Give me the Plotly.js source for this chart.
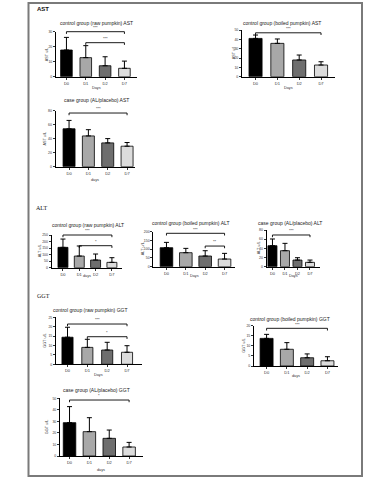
<!DOCTYPE html>
<html><head><meta charset="utf-8">
<script src="https://cdn.plot.ly/plotly-3.0.1.min.js"></script>
<style>html,body{margin:0;padding:0;background:#fff}#chart{width:385px;height:485px}</style>
</head><body><div id="chart"></div>
<script>
// ---- data ----
const days = ['D0','D1','D2','D7'];
const astRawMean = [17.8, 12.7, 7.3, 5.6];
const astRawErr  = [8.4, 8.0, 6.0, 4.8];
const astBoiledMean = [41, 35.7, 17.9, 12.5];
const astBoiledErr  = [3.6, 4.7, 5.3, 3.5];
const astCaseMean = [54, 43.8, 33.9, 29.2];
const astCaseErr  = [11.9, 8.9, 6.1, 5.2];
const altRawMean = [155.6, 89, 58.7, 40.8];
const altRawErr  = [63.4, 77, 45.9, 35.7];
const altBoiledMean = [108.6, 80, 61, 43.8];
const altBoiledErr  = [30.4, 24.8, 30.4, 32.4];
const altCaseMean = [45.8, 34.9, 14.5, 9.5];
const altCaseErr  = [14.6, 16, 5.1, 5];
const ggtRawMean = [14.4, 9.0, 7.6, 6.4];
const ggtRawErr  = [5.3, 4.3, 4.1, 3.5];
const ggtBoiledMean = [13.7, 8.3, 4.1, 2.6];
const ggtBoiledErr  = [2.0, 3.3, 1.9, 2.0];
const ggtCaseMean = [28.9, 21.1, 15.3, 7.8];
const ggtCaseErr  = [13.9, 12.1, 7.2, 4.0];
const sectionLabels = ['AST', 'ALT', 'GGT'];

// ---- layout config ----
const W = 385, H = 485;
const px = x => x / W, py = y => 1 - y / H;
const barColors = ['#000000', '#a8a8a8', '#6e6e6e', '#dcdcdc'];

// br: [from, to, bracket y (fraction of plot height), stars]
const panels = [
  {title:'control group (raw pumpkin) AST', mean:astRawMean, err:astRawErr, yt:'AST u/L', xt:'Days', yr:[0,30], dt:10,
   box:[56,137,31.7,76.7], xr:[-0.54,3.65], w:0.6, tp:[97,22.5], ytx:47, xty:88, br:[[0,3,1.0,'***'],[1,3,0.756,'***']]},
  {title:'control group (boiled pumpkin) AST', mean:astBoiledMean, err:astBoiledErr, yt:'AST u/l', xt:'Days', yr:[0,50], dt:10,
   box:[242,335,30,76.7], xr:[-0.62,3.64], w:0.6, tp:[282,22.5], ytx:234, xty:88, br:[[0,3,0.94,'***']]},
  {title:'case group (AL/placebo) AST', mean:astCaseMean, err:astCaseErr, yt:'AST u/L', xt:'days', yr:[0,80], dt:20,
   box:[55.7,135,110.5,166.7], xr:[-0.69,3.41], w:0.62, tp:[97,100], ytx:45, xty:180, br:[[0,3,0.955,'***']]},
  {title:'control group (raw pumpkin) ALT', mean:altRawMean, err:altRawErr, yt:'ALT u/L', xt:'days', yr:[0,250], dt:50,
   box:[51.7,121.7,235,267.7], xr:[-0.69,3.6], w:0.61, tp:[88,225], ytx:40, xty:276, br:[[0,3,1.0,'***'],[1,3,0.673,'*']]},
  {title:'control group (boiled pumpkin) ALT', mean:altBoiledMean, err:altBoiledErr, yt:'ALT u/L', xt:'Days', yr:[0,200], dt:50,
   box:[153.3,235,231.7,266.7], xr:[-0.68,3.54], w:0.65, tp:[190,223.5], ytx:143, xty:276, br:[[0,3,0.954,'***'],[2,3,0.59,'**']]},
  {title:'case group (AL/placebo) ALT', mean:altCaseMean, err:altCaseErr, yt:'ALT u/L', xt:'Days', yr:[0,80], dt:20,
   box:[266.7,320,230,266.7], xr:[-0.46,3.8], w:0.72, tp:[290,223.5], ytx:259, xty:276, br:[[0,3,0.864,'***']]},
  {title:'control group (raw pumpkin) GGT', mean:ggtRawMean, err:ggtRawErr, yt:'GGT u/L', xt:'Days', yr:[0,25], dt:5,
   box:[56,141.7,317.3,364.3], xr:[-0.58,3.74], w:0.56, tp:[90,310], ytx:45, xty:375, br:[[0,3,0.857,'***'],[1,3,0.587,'*']]},
  {title:'control group (boiled pumpkin) GGT', mean:ggtBoiledMean, err:ggtBoiledErr, yt:'GGT u/L', xt:'days', yr:[0,20], dt:5,
   box:[254,338,325.7,366], xr:[-0.62,3.52], w:0.64, tp:[290,319], ytx:244, xty:376, br:[[0,3,0.935,'***']]},
  {title:'case group (AL/placebo) GGT', mean:ggtCaseMean, err:ggtCaseErr, yt:'GGT u/L', xt:'days', yr:[0,50], dt:10,
   box:[60,143,398.3,456], xr:[-0.48,3.7], w:0.63, tp:[97,389.5], ytx:47, xty:470, br:[[0,3,0.97,'*']]}
];

const font = 'Liberation Sans, Arial, sans-serif';
const traces = [];
const layout = {
  width: W, height: H, margin: {l:0, r:0, t:0, b:0},
  paper_bgcolor: '#fff', plot_bgcolor: '#fff', showlegend: false,
  font: {family: font, color: '#222', size: 4},
  annotations: [], shapes: []
};

panels.forEach((p, i) => {
  const n = i + 1;
  const xa = n === 1 ? 'x' : 'x' + n, ya = n === 1 ? 'y' : 'y' + n;
  traces.push({
    type: 'bar', x: days, y: p.mean, xaxis: xa, yaxis: ya, width: p.w,
    marker: {color: barColors, line: {color: '#000', width: 0.8}},
    error_y: {type: 'data', symmetric: false, array: p.err, arrayminus: [0,0,0,0],
              color: '#000', thickness: 1, width: 2.5},
    hoverinfo: 'skip'
  });
  const [x0, x1, yt, yb] = p.box;
  layout['xaxis' + (n === 1 ? '' : n)] = {
    domain: [px(x0), px(x1)], anchor: ya, type: 'category', range: p.xr,
    showline: true, linecolor: '#000', linewidth: 1, ticks: 'outside', ticklen: 2, tickwidth: 0.8,
    tickcolor: '#000', tickfont: {size: 4, color: '#333', family: font}, showgrid: false, zeroline: false,
    fixedrange: true
  };
  layout['yaxis' + (n === 1 ? '' : n)] = {
    domain: [py(yb), py(yt)], anchor: xa, range: p.yr, dtick: p.dt, tick0: 0,
    showline: true, linecolor: '#000', linewidth: 1, ticks: 'outside', ticklen: 2, tickwidth: 0.8,
    tickcolor: '#000', tickfont: {size: 3.5, color: '#333', family: font}, showgrid: false, zeroline: false,
    fixedrange: true
  };
  layout.annotations.push({xref:'paper', yref:'paper', x: px(p.tp[0]), y: py(p.tp[1]), text: p.title,
    showarrow:false, xanchor:'center', yanchor:'middle', borderpad:0, font:{size:5, color:'#222', family:font}});
  layout.annotations.push({xref:'paper', yref:'paper', x: px(p.ytx), y: py((yt+yb)/2), text: p.yt, textangle:-90,
    showarrow:false, xanchor:'center', yanchor:'middle', font:{size:3.8, color:'#333', family:font}});
  layout.annotations.push({xref:'paper', yref:'paper', x: px((x0+x1)/2), y: py(p.xty), text: p.xt,
    showarrow:false, xanchor:'center', yanchor:'middle', font:{size:3.8, color:'#333', family:font}});
  const h = yb - yt;
  const tick = 2.2 / h;
  p.br.forEach(b => {
    const [a, c, yy, s] = b;
    const ln = {color:'#000', width:0.9};
    layout.shapes.push({type:'line', xref:xa, yref:ya + ' domain', x0:a, x1:c, y0:yy, y1:yy, line:ln});
    layout.shapes.push({type:'line', xref:xa, yref:ya + ' domain', x0:a, x1:a, y0:yy, y1:yy - tick, line:ln});
    layout.shapes.push({type:'line', xref:xa, yref:ya + ' domain', x0:c, x1:c, y0:yy, y1:yy - tick, line:ln});
    layout.annotations.push({xref:xa, yref:ya + ' domain', x:(a + c) / 2, y:yy + 0.6 / h, text:s, showarrow:false,
      xanchor:'center', yanchor:'bottom', borderpad:0, font:{size:4, color:'#222', family:font}});
  });
});

layout.annotations.push({xref:'paper', yref:'paper', x:px(35), y:py(9), text:'<b>' + sectionLabels[0] + '</b>',
  showarrow:false, xanchor:'left', yanchor:'middle', font:{size:6, color:'#111', family:font}});
layout.annotations.push({xref:'paper', yref:'paper', x:px(34), y:py(208), text:sectionLabels[1],
  showarrow:false, xanchor:'left', yanchor:'middle', font:{size:6, color:'#111', family:'Liberation Serif, serif'}});
layout.annotations.push({xref:'paper', yref:'paper', x:px(35), y:py(296), text:sectionLabels[2],
  showarrow:false, xanchor:'left', yanchor:'middle', font:{size:6, color:'#111', family:'Liberation Serif, serif'}});

layout.shapes.push({type:'rect', xref:'paper', yref:'paper', x0:px(28.5), x1:px(362), y0:py(476), y1:py(3),
  line:{color:'#7a7a7a', width:2}, fillcolor:'rgba(0,0,0,0)'});

Plotly.newPlot('chart', traces, layout, {displayModeBar:false, staticPlot:true});
</script></body></html>
